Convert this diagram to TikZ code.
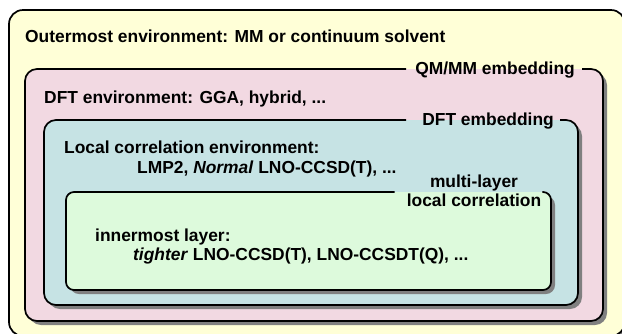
\documentclass[tikz,border=0pt]{standalone}
\usepackage{fontspec}
\setmainfont{Liberation Sans}
\usetikzlibrary{arrows}
\definecolor{outercol}{RGB}{255,255,215}
\definecolor{qmmmcol}{RGB}{242,217,226}
\definecolor{dftcol}{RGB}{198,227,228}
\definecolor{lnocol}{RGB}{221,250,220}
\tikzstyle{label} = [font=\bfseries\fontsize{17.4}{19.5}\selectfont, inner sep=0pt]
\tikzstyle{shadow} = [fill=black!50]
\tikzstyle{border} = [draw, line width=1.7pt]

\begin{document}
\begin{tikzpicture}[x=1pt, y=-1pt]
				\useasboundingbox (0,0) rectangle (622,333);
				\clip (0,0) rectangle (622,333);

				% Draw the layers: shadow first, then the fill
				\foreach \l/\t/\r/\b/\rad/\col in {9/10/625/336/14/outercol, 25/69/603/321/12/qmmmcol,
										44/120/578/305/12/dftcol, 66/192/551/290/9/lnocol}
				{
					\fill[shadow, rounded corners=\rad] (\l+4,\t+4) rectangle (\r+4,\b+4);
					\fill[\col, rounded corners=\rad] (\l,\t) rectangle (\r,\b);
				}

				% Environment texts
				\foreach \pos/\name/\text in {{(25,42)/outer/Outermost environment: MM or continuum solvent},
										{(44,103)/dftenv/{DFT environment: GGA, hybrid, ...}},
										{(64,153)/lcenv/Local correlation environment:},
										{(137,173)/lcmeth/{LMP2, \textit{Normal} LNO-CCSD(T), ...}},
										{(95,241)/inner/innermost layer:},
										{(133,260)/innermeth/{\textit{tighter} LNO-CCSD(T), LNO-CCSDT(Q), ...}}}
				\node[label, anchor=base west] (\name) at \pos {\text};

				% Embedding labels on the top edges
				\node[label, anchor=base east] (qmmm) at (575,74) {QM/MM embedding};
				\node[label, anchor=base east] (dftemb) at (554,125) {DFT embedding};
				\node[label, anchor=base] (mlA) at (474,187) {multi-layer};
				\node[label, anchor=base] (mlB) at (474,206) {local correlation};

				% Borders, open where the labels sit
				\draw[border, rounded corners=14] (9,10) rectangle (625,336);
				\draw[border, rounded corners=12] ([xshift=7pt]qmmm.east |- 0,69) -- (603,69) -- (603,321)
					-- (25,321) -- (25,69) -- ([xshift=-9pt]qmmm.west |- 0,69);
				\draw[border, rounded corners=12] ([xshift=6pt]dftemb.east |- 0,120) -- (578,120) -- (578,305)
					-- (44,305) -- (44,120) -- ([xshift=-16pt]dftemb.west |- 0,120);
				\draw[border, rounded corners=8] ([xshift=1pt]mlB.east |- 0,192) -- (551,192) -- (551,290)
					-- (66,290) -- (66,192) -- ([xshift=-12pt]mlB.west |- 0,192);
			\end{tikzpicture}
\end{document}
